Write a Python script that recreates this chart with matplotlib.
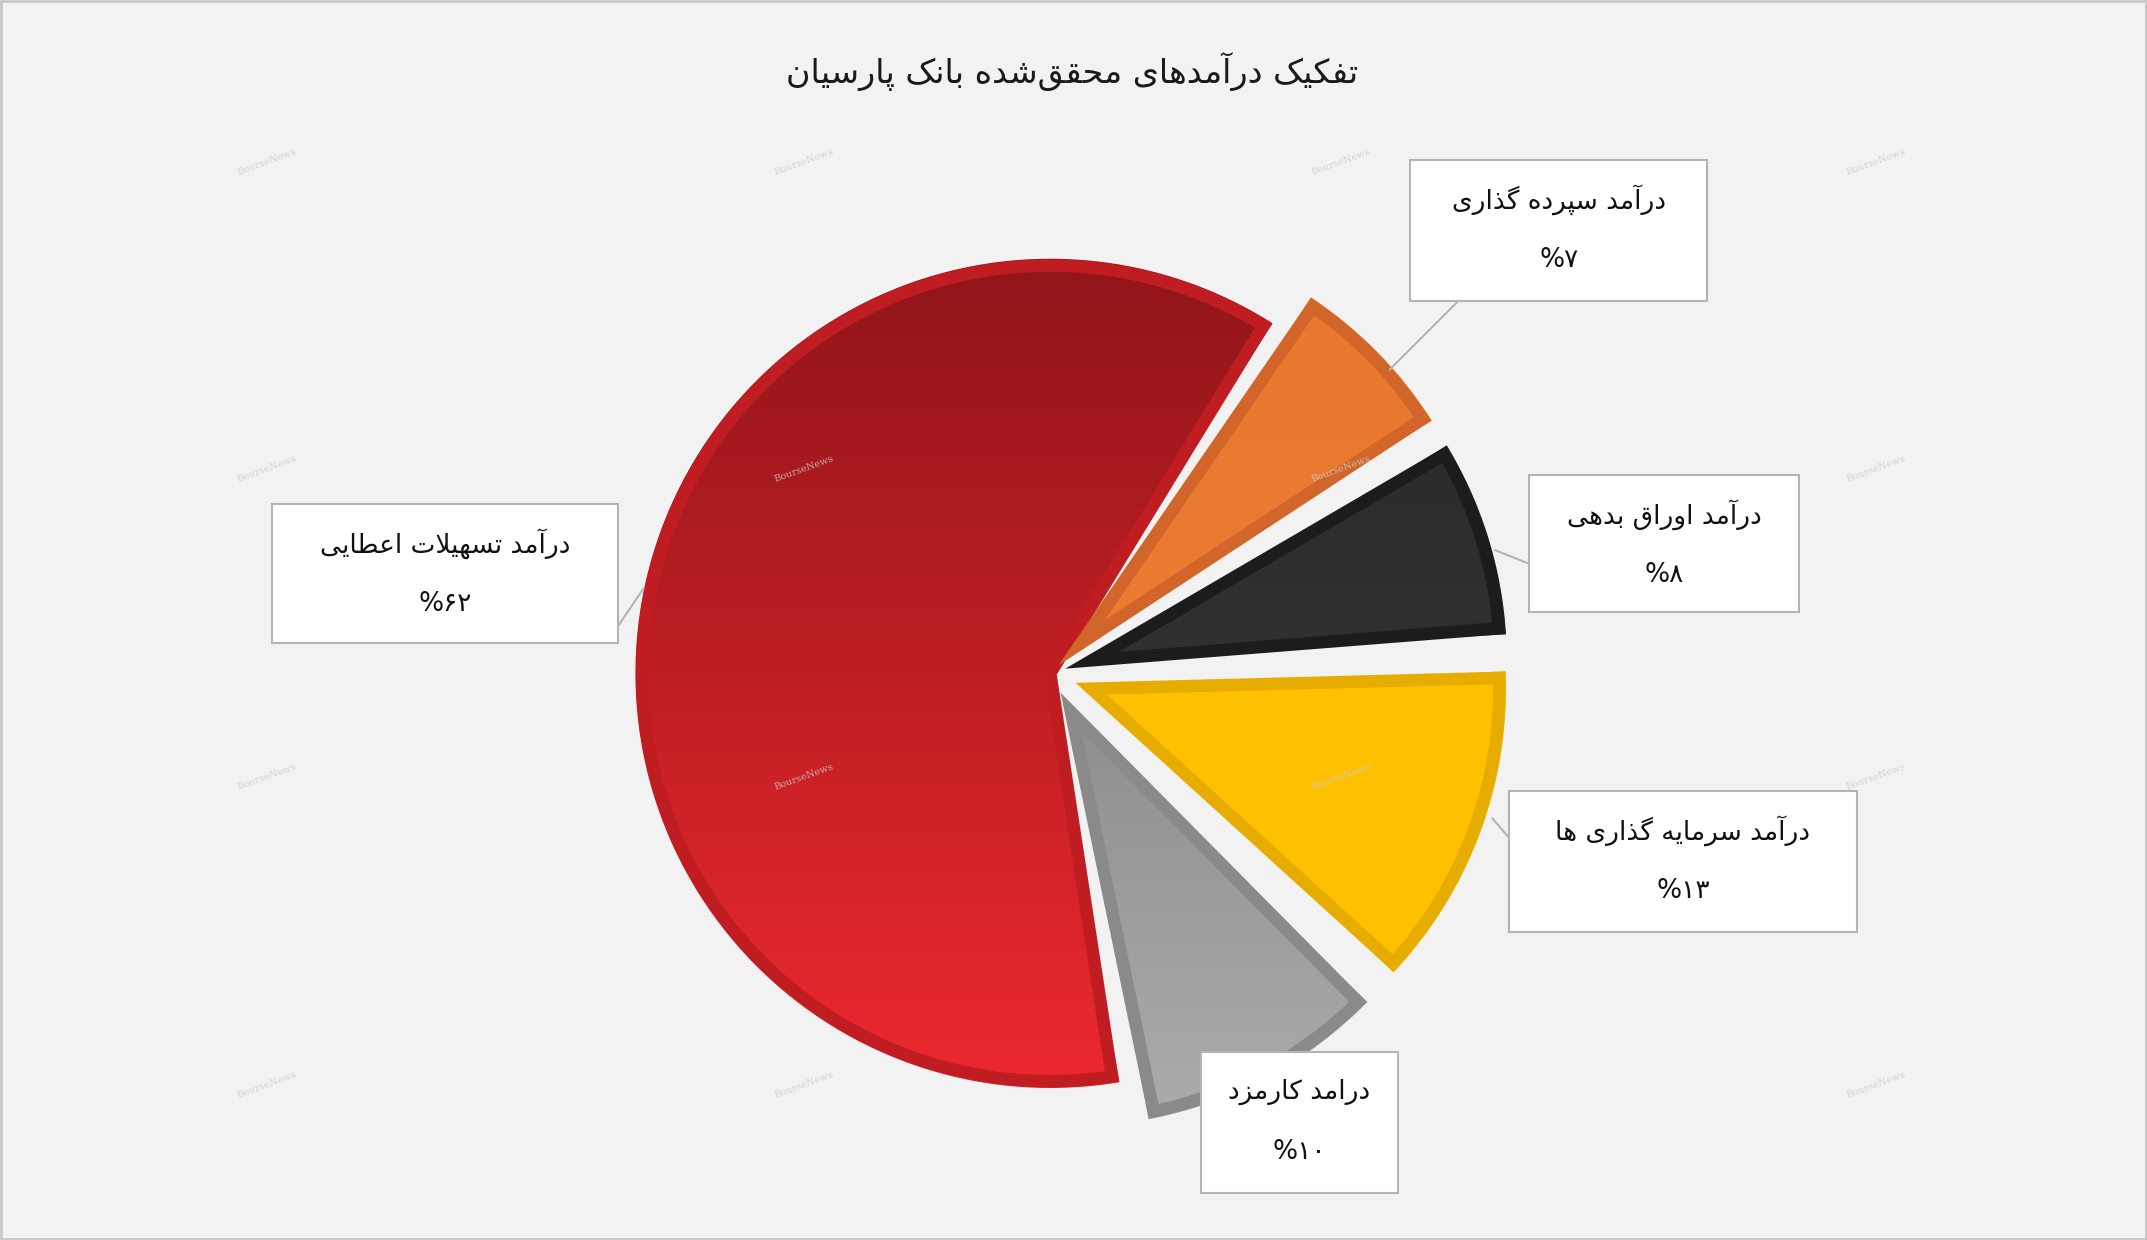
import numpy as np
import matplotlib
matplotlib.use("Agg")
import matplotlib.pyplot as plt
from matplotlib.colors import LinearSegmentedColormap
from matplotlib.patches import Wedge

title = "تفکیک درآمدهای محقق\u200cشده بانک پارسیان"
labels = ["درآمد تسهیلات اعطایی", "درامد کارمزد", "درآمد سرمایه گذاری ها",
          "درآمد اوراق بدهی", "درآمد سپرده گذاری"]
values = [62, 10, 13, 8, 7]
pct_labels = ["%۶۲", "%۱۰", "%۱۳", "%۸", "%۷"]

# ---- minimal Persian shaper ----
F = {
 'ا': (0xFE8D, 0xFE8E, None, None), 'آ': (0xFE81, 0xFE82, None, None),
 'ب': (0xFE8F, 0xFE90, 0xFE91, 0xFE92), 'پ': (0xFB56, 0xFB57, 0xFB58, 0xFB59),
 'ت': (0xFE95, 0xFE96, 0xFE97, 0xFE98), 'ح': (0xFEA1, 0xFEA2, 0xFEA3, 0xFEA4),
 'د': (0xFEA9, 0xFEAA, None, None), 'ذ': (0xFEAB, 0xFEAC, None, None),
 'ر': (0xFEAD, 0xFEAE, None, None), 'ز': (0xFEAF, 0xFEB0, None, None),
 'س': (0xFEB1, 0xFEB2, 0xFEB3, 0xFEB4), 'ش': (0xFEB5, 0xFEB6, 0xFEB7, 0xFEB8),
 'ط': (0xFEC1, 0xFEC2, 0xFEC3, 0xFEC4), 'ع': (0xFEC9, 0xFECA, 0xFECB, 0xFECC),
 'ف': (0xFED1, 0xFED2, 0xFED3, 0xFED4), 'ق': (0xFED5, 0xFED6, 0xFED7, 0xFED8),
 'ک': (0xFB8E, 0xFB8F, 0xFB90, 0xFB91), 'گ': (0xFB92, 0xFB93, 0xFB94, 0xFB95),
 'ل': (0xFEDD, 0xFEDE, 0xFEDF, 0xFEE0), 'م': (0xFEE1, 0xFEE2, 0xFEE3, 0xFEE4),
 'ن': (0xFEE5, 0xFEE6, 0xFEE7, 0xFEE8), 'ه': (0xFEE9, 0xFEEA, 0xFEEB, 0xFEEC),
 'و': (0xFEED, 0xFEEE, None, None), 'ی': (0xFBFC, 0xFBFD, 0xFBFE, 0xFBFF),
}
def dual(c):
    return c in F and F[c][2] is not None
def shape(s):
    s = s.replace('لا', '\uE000')
    out = []
    for i, c in enumerate(s):
        p = s[i-1] if i > 0 else ''
        n = s[i+1] if i + 1 < len(s) else ''
        jp = dual(p) and (c in F or c == '\uE000')
        if c == '\uE000':
            out.append(chr(0xFEFC if jp else 0xFEFB)); continue
        if c not in F:
            out.append(c if c != '\u200c' else ''); continue
        jn = dual(c) and (n in F or n == '\uE000')
        iso, fin, ini, med = F[c]
        if jp and jn: out.append(chr(med))
        elif jp: out.append(chr(fin))
        elif jn: out.append(chr(ini))
        else: out.append(chr(iso))
    return ''.join(out)[::-1]

plt.rcParams['font.family'] = ['DejaVu Sans']
fig = plt.figure(figsize=(21.47, 12.40), dpi=100, facecolor='#f2f2f2')
ax = fig.add_axes([0, 0, 1, 1])
ax.set_facecolor('#f2f2f2')

tops = ['#8c1418', '#6c6c6c', '#ffc000', '#262626', '#e8782e']
bots = ['#f02a30', '#acacac', '#ffc000', '#3c3c3c', '#ee8034']
edges = ['#c01d23', '#8a8a8a', '#e6ad00', '#1c1c1c', '#d2662a']
explode = [0, 32, 32, 32, 32]
wedges, _ = ax.pie(values, startangle=-57, counterclock=False, center=(767, 492),
                   radius=306, explode=explode, frame=True,
                   wedgeprops=dict(linewidth=6, edgecolor='#f2f2f2'))
ax.set_xlim(0, 1568); ax.set_ylim(906, 0); ax.set_aspect('equal'); ax.axis('off')
ax.add_patch(plt.Rectangle((1, 1), 1566, 904, fill=False, ec='#c8c8c8', lw=2))
ax.text(783, 52, shape(title), fontsize=24, ha='center', va='center', color='#1a1a1a')

grad = np.linspace(0, 1, 256).reshape(-1, 1)
for w, t, b, e in zip(wedges, tops, bots, edges):
    w.set_facecolor('none')
    cmap = LinearSegmentedColormap.from_list('g', [t, b])
    im = ax.imshow(grad, cmap=cmap, extent=(440, 1140, 820, 160), aspect='auto', zorder=1)
    im.set_clip_path(w)
    w.set_zorder(2)
    ax.add_patch(Wedge(w.center, w.r - 8, w.theta1 + 1.5, w.theta2 - 1.5,
                       fill=False, ec=e, lw=9, zorder=3))
ax.set_xlim(0, 1568); ax.set_ylim(906, 0)

for gx in [195, 587, 979, 1370]:
    for gy in [118, 343, 568, 793]:
        ax.text(gx, gy, "BourseNews", fontsize=7, color='#cccccc', alpha=0.8,
                rotation=20, ha='center', va='center', family='DejaVu Serif', zorder=4)

boxes = [(199, 368, 451, 470), (877, 769, 1021, 872), (1102, 578, 1356, 681),
         (1117, 347, 1314, 447), (1030, 117, 1247, 220)]
lines = [((451, 458), (470, 430)), None, ((1090, 598), (1102, 612)),
         ((1092, 402), (1117, 412)), ((1015, 270), (1065, 220))]
for lab, pct, (x0, y0, x1, y1), ln in zip(labels, pct_labels, boxes, lines):
    ax.add_patch(plt.Rectangle((x0, y0), x1 - x0, y1 - y0, fc='white', ec='#b4b4b4', lw=1.5, zorder=5))
    if ln:
        ax.plot([ln[0][0], ln[1][0]], [ln[0][1], ln[1][1]], color='#b4b4b4', lw=1.5, zorder=4)
    cx = (x0 + x1) / 2
    ax.text(cx, y0 + 29, shape(lab), fontsize=19, ha='center', va='center', zorder=6, color='#111111')
    ax.text(cx, y0 + 73, pct, fontsize=19, ha='center', va='center', zorder=6, color='#111111')

fig.savefig('out.png', dpi=100, facecolor='#f2f2f2')
